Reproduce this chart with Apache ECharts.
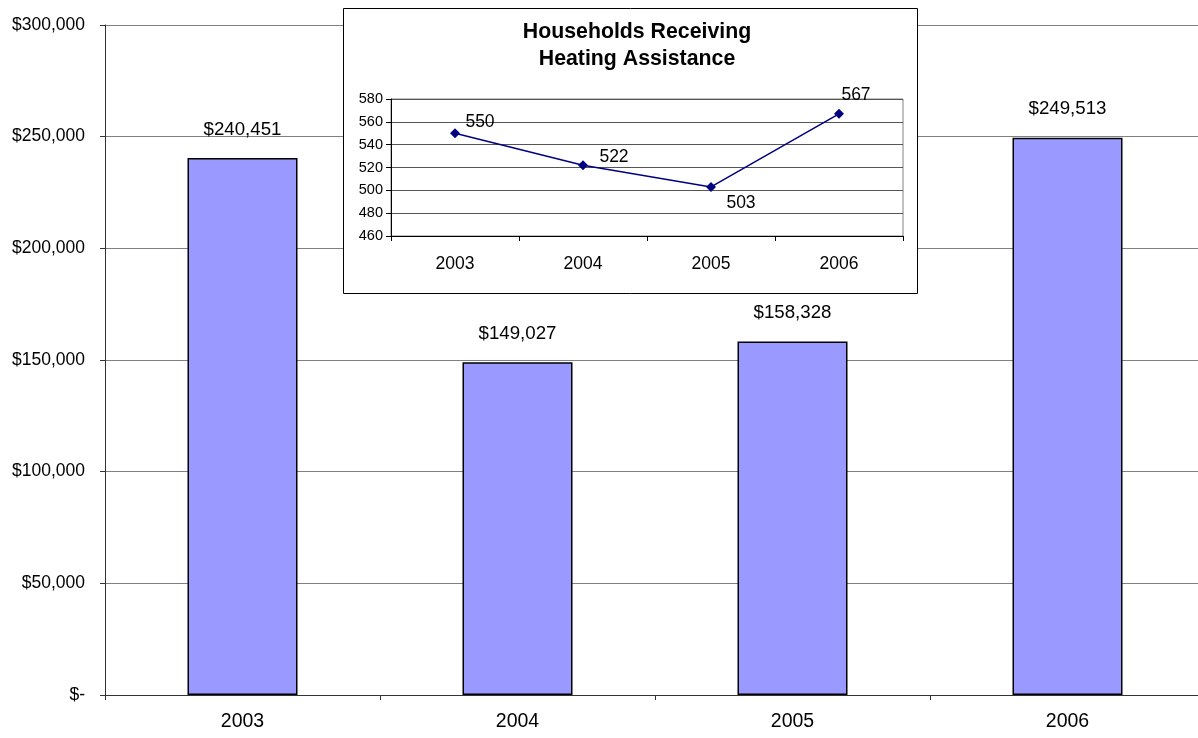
<!DOCTYPE html>
<html>
<head>
<meta charset="utf-8">
<script src="https://cdn.jsdelivr.net/npm/echarts@6/dist/echarts.min.js"></script>
<style>
html,body{margin:0;padding:0;background:#fff;overflow:hidden;}
#chart{width:1205px;height:738px;}
</style>
</head>
<body>
<div id="chart"></div>
<script>
// Data
const years = ['2003', '2004', '2005', '2006'];
const assistanceDollars = [240451, 149027, 158328, 249513];
const households = [550, 522, 503, 567];
const insetTitle = 'Households Receiving\nHeating Assistance';

// Label offsets for the inset line labels (styling)
const insetLabelOffsets = [[25, -11], [31, -8], [30, 16], [17, -19]];

const FONT = '"Liberation Sans", Arial, sans-serif';
const chart = echarts.init(document.getElementById('chart'), null, {renderer: 'canvas'});

const fmtMoney = v => v === 0 ? '$-' : '$' + v.toLocaleString('en-US');

const option = {
  animation: false,
  backgroundColor: '#fff',
  textStyle: {fontFamily: FONT},
  title: {
    text: insetTitle,
    left: 632,
    top: 14,
    textAlign: 'center',
    z: 10,
    textStyle: {fontFamily: FONT, fontWeight: 'bold', fontSize: 21.3, lineHeight: 27, color: '#000'}
  },
  graphic: [{
    type: 'rect',
    z: 3,
    shape: {x: 343.5, y: 8.5, width: 574, height: 285},
    style: {fill: '#fff', stroke: '#000', lineWidth: 1}
  }],
  grid: [
    {left: 105, top: 25, right: 0, bottom: 43, containLabel: false},
    {left: 391, top: 99, width: 512, height: 137, show: true, z: 4,
     backgroundColor: 'transparent', borderColor: '#808080', borderWidth: 1}
  ],
  xAxis: [
    {
      type: 'category', gridIndex: 0, data: years, boundaryGap: true,
      axisLine: {lineStyle: {color: '#333', width: 1}},
      axisTick: {show: true, alignWithLabel: false, length: 5, lineStyle: {color: '#333'}},
      axisLabel: {fontFamily: FONT, fontSize: 19.5, color: '#000', margin: 17}
    },
    {
      type: 'category', gridIndex: 1, data: years, boundaryGap: true, z: 5,
      axisLine: {lineStyle: {color: '#000', width: 1}},
      axisTick: {show: true, length: 5, lineStyle: {color: '#000'}},
      axisLabel: {fontFamily: FONT, fontSize: 17.5, color: '#000', margin: 19}
    }
  ],
  yAxis: [
    {
      type: 'value', gridIndex: 0, min: 0, max: 300000, interval: 50000,
      axisLine: {show: true, lineStyle: {color: '#333', width: 1}},
      axisTick: {show: true, length: 5, lineStyle: {color: '#333'}},
      axisLabel: {fontFamily: FONT, fontSize: 17.5, color: '#000', margin: 20, formatter: fmtMoney},
      splitLine: {show: true, lineStyle: {color: '#808080', width: 1}}
    },
    {
      type: 'value', gridIndex: 1, min: 460, max: 580, interval: 20, z: 5,
      axisLine: {show: true, lineStyle: {color: '#000', width: 1}},
      axisTick: {show: true, length: 5, lineStyle: {color: '#000'}},
      axisLabel: {fontFamily: FONT, fontSize: 14.5, color: '#000', margin: 8},
      splitLine: {show: true, lineStyle: {color: '#555', width: 1}}
    }
  ],
  series: [
    {
      type: 'bar', xAxisIndex: 0, yAxisIndex: 0, z: 2,
      data: assistanceDollars,
      barWidth: 110,
      itemStyle: {color: '#9999FF', borderColor: '#000', borderWidth: 1.5},
      label: {show: true, position: 'top', distance: 19, fontFamily: FONT, fontSize: 18.7, color: '#000',
              formatter: p => fmtMoney(p.value)}
    },
    {
      type: 'line', xAxisIndex: 1, yAxisIndex: 1, z: 6,
      data: households.map((v, i) => ({
        value: v,
        label: {offset: insetLabelOffsets[i]}
      })),
      symbol: 'diamond', symbolSize: 10,
      lineStyle: {color: '#000080', width: 1.5},
      itemStyle: {color: '#000080'},
      label: {show: true, position: 'inside', fontFamily: FONT, fontSize: 17.5, color: '#000'}
    }
  ]
};
chart.setOption(option);
</script>
</body>
</html>
